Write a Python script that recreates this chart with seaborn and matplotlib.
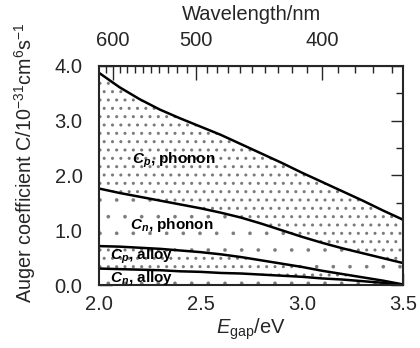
import numpy as np
import pandas as pd
import matplotlib
matplotlib.use("Agg")
import matplotlib.pyplot as plt
import seaborn as sns
from matplotlib.ticker import FixedLocator, MultipleLocator, FormatStrFormatter

# values
egap = [2.0, 2.1, 2.2, 2.3, 2.4, 2.5, 2.6, 2.7, 2.8, 2.9, 3.0, 3.1, 3.2, 3.3, 3.4, 3.5]
cp_phonon = [3.87, 3.61, 3.39, 3.20, 3.04, 2.89, 2.74, 2.57, 2.40, 2.23, 2.05, 1.88, 1.71, 1.54, 1.36, 1.19]
cn_phonon = [1.76, 1.68, 1.61, 1.54, 1.47, 1.40, 1.32, 1.23, 1.12, 1.00, 0.88, 0.77, 0.67, 0.58, 0.49, 0.40]
cp_alloy = [0.71, 0.70, 0.68, 0.66, 0.63, 0.60, 0.56, 0.51, 0.45, 0.39, 0.33, 0.26, 0.20, 0.14, 0.08, 0.01]
cn_alloy = [0.30, 0.29, 0.28, 0.27, 0.25, 0.24, 0.22, 0.21, 0.19, 0.17, 0.15, 0.12, 0.10, 0.07, 0.04, 0.0]

wl_major = [600, 500, 400]
wl_minor = list(range(360, 611, 10))

df = pd.DataFrame({"E": egap, "Cp phonon": cp_phonon, "Cn phonon": cn_phonon,
                   "Cp alloy": cp_alloy, "Cn alloy": cn_alloy})
long = df.melt(id_vars="E", var_name="curve", value_name="C")

sns.set_style("ticks")
plt.rcParams["font.family"] = ["Liberation Sans", "DejaVu Sans"]
plt.rcParams["mathtext.fontset"] = "custom"
plt.rcParams["mathtext.rm"] = "Liberation Sans"
plt.rcParams["mathtext.it"] = "Liberation Sans:italic"
plt.rcParams["mathtext.bf"] = "Liberation Sans:bold"
plt.rcParams["mathtext.bfit"] = "Liberation Sans:italic:bold"
plt.rcParams["hatch.linewidth"] = 1.0

fig, ax = plt.subplots(figsize=(4.2, 3.48), dpi=100)
fig.subplots_adjust(left=0.236, right=0.96, top=0.811, bottom=0.181)

# dotted shading between curves: dense and sparse bands
dot = "#7a7a7a"
zero = [0] * len(egap)
bands = [(cn_phonon, cp_phonon, ".."), (cp_alloy, cn_phonon, "."),
         (cn_alloy, cp_alloy, ".."), (zero, cn_alloy, ".")]
for lo, hi, h in bands:
    pc = ax.fill_between(egap, lo, hi, facecolor="white", edgecolor=dot, hatch=h, linewidth=0)
    if h == "." and hasattr(pc, "set_hatch_linewidth"):
        pc.set_hatch_linewidth(0.2)

sns.lineplot(data=long, x="E", y="C", units="curve", estimator=None,
             color="black", linewidth=1.8, ax=ax, legend=False)

ax.set_xlim(2.0, 3.5)
ax.set_ylim(0.0, 4.0)
ax.xaxis.set_major_locator(MultipleLocator(0.5))
ax.xaxis.set_minor_locator(MultipleLocator(0.25))
ax.yaxis.set_major_locator(MultipleLocator(1.0))
ax.yaxis.set_minor_locator(MultipleLocator(0.5))
ax.xaxis.set_major_formatter(FormatStrFormatter("%.1f"))
ax.yaxis.set_major_formatter(FormatStrFormatter("%.1f"))
ax.tick_params(which="both", direction="in", right=True, width=1.0, labelsize=14.5)
ax.tick_params(which="major", length=9)
ax.tick_params(which="minor", length=5)
ax.tick_params(axis="x", pad=7)
ax.tick_params(axis="y", pad=12)
for s in ax.spines.values():
    s.set_linewidth(1.5)

ax.set_xlabel("$E_{\\mathrm{gap}}$/eV", fontsize=14.5, labelpad=2)
ax.set_ylabel("Auger coefficient C/10$^{-31}$cm$^{6}$s$^{-1}$", fontsize=14.2)
ax.yaxis.set_label_coords(-0.2, 0.555)

top = ax.secondary_xaxis("top", functions=(lambda e: 1239.84 / np.maximum(e, 1e-6),
                                           lambda w: 1239.84 / np.maximum(w, 1e-6)))
top.xaxis.set_major_locator(FixedLocator(wl_major))
top.xaxis.set_minor_locator(FixedLocator(wl_minor))
top.tick_params(which="both", direction="in", width=1.0, labelsize=14.5, pad=11)
top.tick_params(which="major", length=10)
top.tick_params(which="minor", length=5)
top.set_xlabel("Wavelength/nm", fontsize=14.5, labelpad=8)

lab = dict(fontsize=11, fontweight="bold", color="black", va="center")
ax.text(2.163, 2.28, "$\\mathbfit{C_p}$, phonon", **lab)
ax.text(2.153, 1.10, "$\\mathbfit{C_n}$, phonon", **lab)
ax.text(2.054, 0.52, "$\\mathbfit{C_p}$, alloy", **lab)
ax.text(2.054, 0.13, "$\\mathbfit{C_n}$, alloy", **lab)

fig.savefig("out.png", dpi=100)
